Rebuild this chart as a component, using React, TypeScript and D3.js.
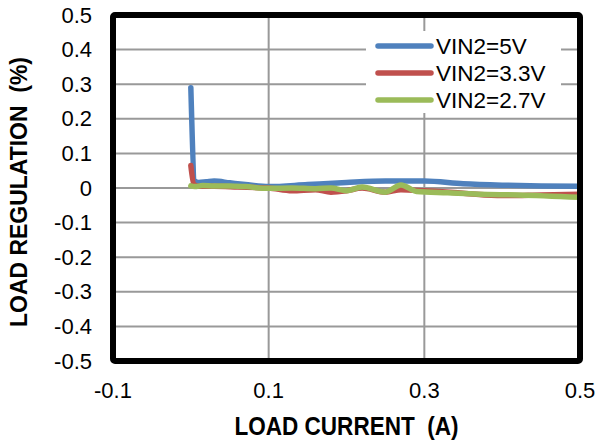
import { scaleLinear, line, curveMonotoneX } from "d3";

// load current (A) vs load regulation (%)
const blueX = [0, 0.005, 0.01, 0.02, 0.03, 0.05, 0.07, 0.1, 0.15, 0.2, 0.25, 0.3, 0.35, 0.4, 0.45, 0.5];
const blueY = [0.29, 0.02, 0.016, 0.018, 0.02, 0.015, 0.01, 0.004, 0.01, 0.016, 0.02, 0.02, 0.012, 0.008, 0.006, 0.005];

const redX = [0, 0.004, 0.01, 0.03, 0.06, 0.1, 0.13, 0.16, 0.18, 0.2, 0.22, 0.25, 0.27, 0.3, 0.35, 0.4, 0.45, 0.5];
const redY = [0.065, 0.01, 0.005, 0.005, 0.003, 0, -0.008, -0.005, -0.012, -0.008, 0, -0.012, -0.005, -0.008, -0.015, -0.022, -0.02, -0.018];

const greenX = [0, 0.005, 0.015, 0.03, 0.05, 0.07, 0.1, 0.13, 0.16, 0.18, 0.2, 0.22, 0.25, 0.27, 0.29, 0.33, 0.37, 0.42, 0.5];
const greenY = [0.006, 0.004, 0.007, 0.006, 0.006, 0.004, -0.001, 0, -0.002, 0, -0.008, 0.003, -0.012, 0.009, -0.01, -0.014, -0.018, -0.02, -0.027];

const seriesNames = ["VIN2=5V", "VIN2=3.3V", "VIN2=2.7V"];
const seriesColors = ["#4F81BD", "#C0504D", "#9BBB59"];

const xTicks = [-0.1, 0.1, 0.3, 0.5];
const yTicks = [0.5, 0.4, 0.3, 0.2, 0.1, 0, -0.1, -0.2, -0.3, -0.4, -0.5];
const xGrid = [0.1, 0.3];

const width = 600;
const height = 441;
const left = 113;
const right = 580;
const top = 15;
const bottom = 361;
const font = "'Liberation Sans', Arial, sans-serif";

export default function App() {
  const x = scaleLinear().domain([-0.1, 0.5]).range([left, right]);
  const y = scaleLinear().domain([-0.5, 0.5]).range([bottom, top]);

  const pathFor = (xs: number[], ys: number[]) =>
    line<number>()
      .x((d) => x(d))
      .y((_, i) => y(ys[i]))
      .curve(curveMonotoneX)(xs) ?? "";

  const paths = [
    pathFor(blueX, blueY),
    pathFor(redX, redY),
    pathFor(greenX, greenY)
  ];

  const fmt = (v: number) => (Math.abs(v) < 1e-9 ? "0" : String(Math.round(v * 10) / 10));

  return (
    <svg
      width={width}
      height={height}
      style={{ position: "absolute", left: 0, top: 0, background: "#fff" }}
      fontFamily={font}
    >
      <rect x={0} y={0} width={width} height={height} fill="#fff" />
      {yTicks
        .filter((t) => Math.abs(t) < 0.45)
        .map((t) => (
          <line key={`gy${t}`} x1={left} x2={right} y1={y(t)} y2={y(t)} stroke="#999" strokeWidth={2} />
        ))}
      {xGrid.map((t) => (
        <line key={`gx${t}`} x1={x(t)} x2={x(t)} y1={top} y2={bottom} stroke="#999" strokeWidth={2} />
      ))}
      <rect x={366} y={31} width={195} height={82} fill="#fff" />
      {paths.map((d, i) => (
        <path
          key={seriesNames[i]}
          d={d}
          fill="none"
          stroke={seriesColors[i]}
          strokeWidth={5.5}
          strokeLinecap="round"
          strokeLinejoin="round"
        />
      ))}
      <rect
        x={left}
        y={top}
        width={right - left}
        height={bottom - top}
        fill="none"
        stroke="#000"
        strokeWidth={6}
        rx={2}
      />
      {yTicks.map((t) => (
        <text key={`ty${t}`} x={92} y={y(t) + 7.5} textAnchor="end" fontSize={22} fill="#000">
          {fmt(t)}
        </text>
      ))}
      {xTicks.map((t) => (
        <text key={`tx${t}`} x={x(t)} y={398} textAnchor="middle" fontSize={22} fill="#000">
          {fmt(t)}
        </text>
      ))}
      {seriesNames.map((name, i) => (
        <g key={`lg${name}`}>
          <line
            x1={378}
            x2={431}
            y1={46 + i * 27}
            y2={46 + i * 27}
            stroke={seriesColors[i]}
            strokeWidth={5.5}
            strokeLinecap="round"
          />
          <text x={436} y={46 + i * 27 + 7.5} fontSize={22.5} fill="#000">
            {name}
          </text>
        </g>
      ))}
      <text
        x={(left + right) / 2}
        y={435}
        textAnchor="middle"
        fontSize={25}
        fontWeight="bold"
        textLength={224}
        lengthAdjust="spacingAndGlyphs"
        fill="#000"
        style={{ whiteSpace: "pre" }}
      >
        {"LOAD CURRENT  (A)"}
      </text>
      <text
        transform={`translate(27, 192) rotate(-90)`}
        textAnchor="middle"
        fontSize={23}
        fontWeight="bold"
        textLength={270}
        lengthAdjust="spacingAndGlyphs"
        fill="#000"
        style={{ whiteSpace: "pre" }}
      >
        {"LOAD REGULATION  (%)"}
      </text>
    </svg>
  );
}
